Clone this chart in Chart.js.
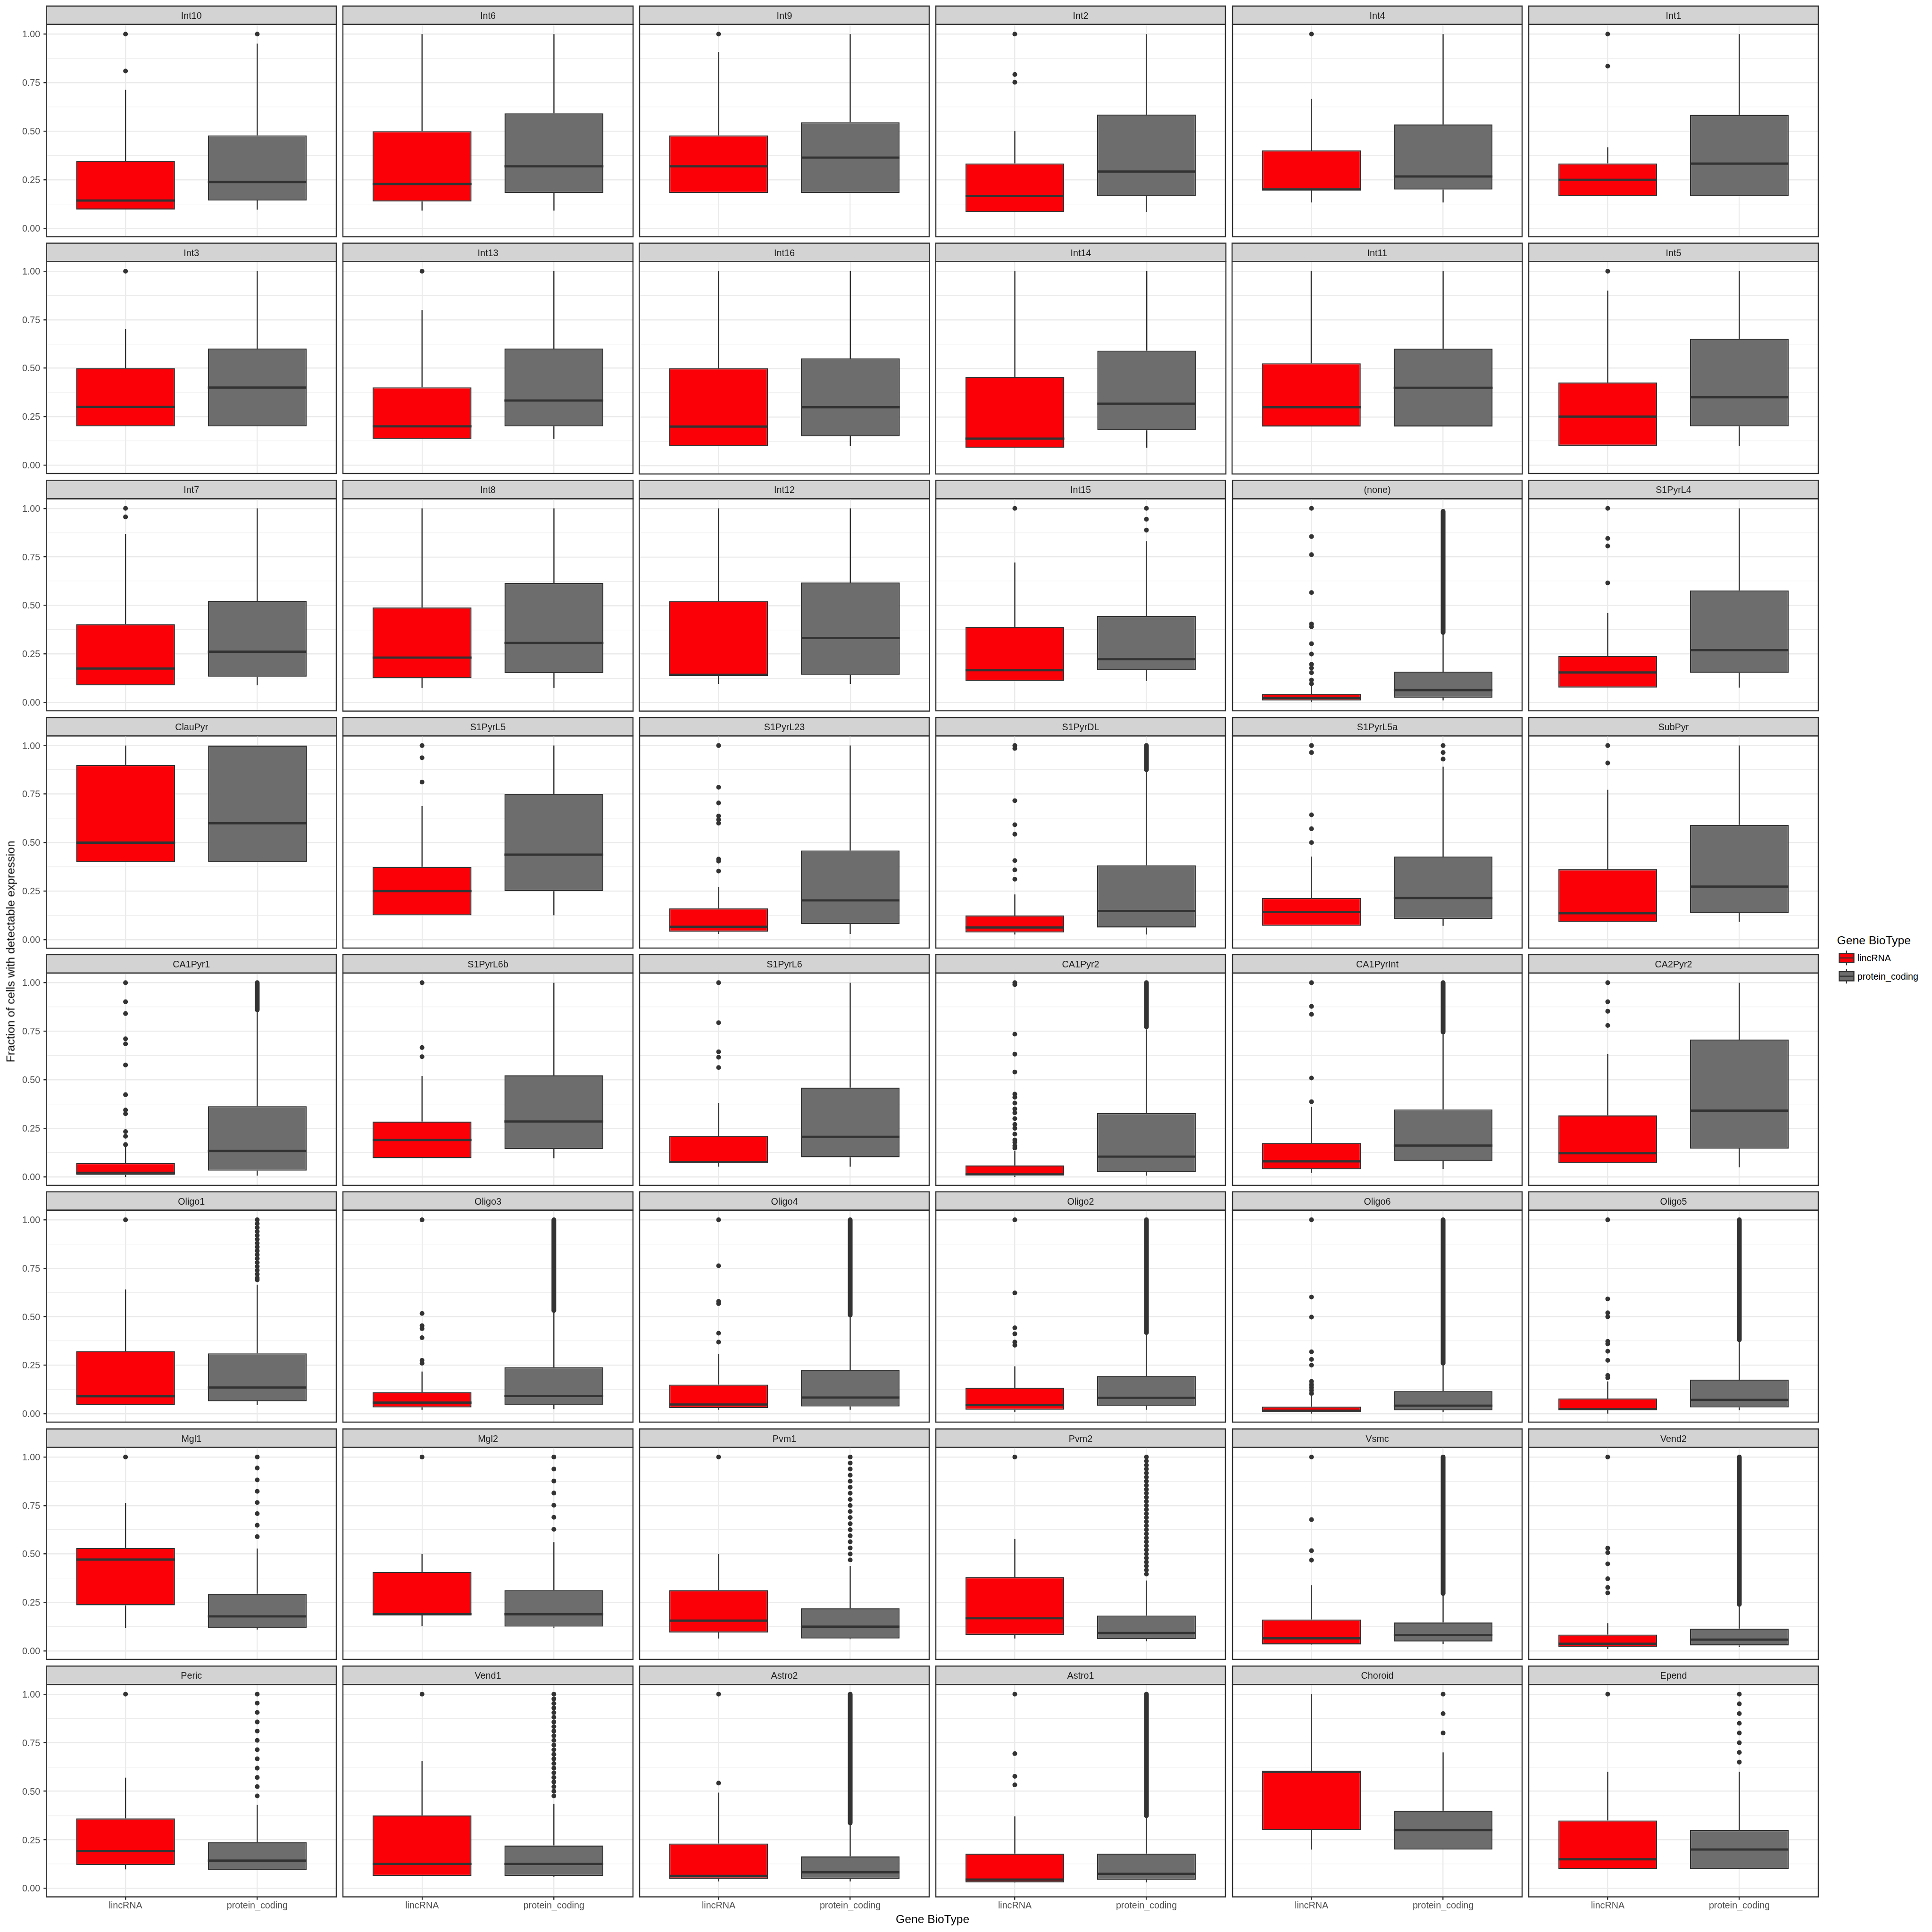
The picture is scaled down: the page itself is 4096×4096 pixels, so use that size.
<!DOCTYPE html>
<html>
<head>
<meta charset="utf-8">
<script src="https://cdn.jsdelivr.net/npm/chart.js@4.4.1/dist/chart.umd.min.js"></script>
<style>
html,body{margin:0;padding:0;background:#ffffff;}
#wrap{position:relative;width:4096px;height:4096px;overflow:hidden;background:#ffffff;font-family:"Liberation Sans",Arial,Helvetica,sans-serif;}
#wrap canvas{position:absolute;}
.txt{position:absolute;white-space:nowrap;}
</style>
</head>
<body>
<div id="wrap"></div>
<script>
// ---------------- DATA ----------------
const panelNames = ['Int10','Int6','Int9','Int2','Int4','Int1',
  'Int3','Int13','Int16','Int14','Int11','Int5',
  'Int7','Int8','Int12','Int15','(none)','S1PyrL4',
  'ClauPyr','S1PyrL5','S1PyrL23','S1PyrDL','S1PyrL5a','SubPyr',
  'CA1Pyr1','S1PyrL6b','S1PyrL6','CA1Pyr2','CA1PyrInt','CA2Pyr2',
  'Oligo1','Oligo3','Oligo4','Oligo2','Oligo6','Oligo5',
  'Mgl1','Mgl2','Pvm1','Pvm2','Vsmc','Vend2',
  'Peric','Vend1','Astro2','Astro1','Choroid','Epend'];
const xCategories = ['lincRNA', 'protein_coding'];
const xPositions = [1, 2];
const yTickValues = [0, 0.25, 0.5, 0.75, 1];
const yTickLabels = ['0.00', '0.25', '0.50', '0.75', '1.00'];
const yMinorValues = [0.125, 0.375, 0.625, 0.875];
const xAxisTitle = 'Gene BioType';
const yAxisTitle = 'Fraction of cells with detectable expression';
const legendTitle = 'Gene BioType';

// lincRNA box statistics (one value per panel)
const lincLower  = [0.096,0.091,0.182,0.084,0.133,0.166, 0.2,0.135,0.1,0.091,0.2,0.1, 0.088,0.077,0.096,0.11,0.0,0.076, 0.4,0.125,0.029,0.026,0.071,0.091, 0.0,0.096,0.052,0.0,0.02,0.071, 0.044,0.02,0.02,0.01,0.0,0.0, 0.118,0.128,0.064,0.064,0.03,0.01, 0.098,0.064,0.036,0.03,0.2,0.1];
const lincQ1     = [0.096,0.138,0.182,0.084,0.2,0.166, 0.2,0.135,0.1,0.091,0.2,0.1, 0.088,0.126,0.14,0.11,0.01,0.076, 0.4,0.125,0.041,0.037,0.071,0.091, 0.01,0.096,0.073,0.006,0.039,0.071, 0.044,0.032,0.029,0.02,0.01,0.017, 0.235,0.185,0.095,0.083,0.033,0.02, 0.12,0.064,0.05,0.031,0.3,0.1];
const lincMedian = [0.143,0.228,0.319,0.166,0.2,0.25, 0.3,0.2,0.2,0.138,0.3,0.25, 0.174,0.232,0.143,0.166,0.023,0.154, 0.5,0.25,0.066,0.062,0.142,0.136, 0.021,0.19,0.077,0.013,0.08,0.122, 0.09,0.057,0.047,0.044,0.015,0.023, 0.471,0.189,0.156,0.168,0.065,0.037, 0.192,0.126,0.064,0.045,0.6,0.15];
const lincQ3     = [0.347,0.5,0.478,0.334,0.401,0.334, 0.5,0.401,0.5,0.456,0.526,0.426, 0.403,0.49,0.523,0.389,0.043,0.239, 0.9,0.375,0.161,0.124,0.214,0.362, 0.071,0.285,0.21,0.059,0.174,0.317, 0.322,0.111,0.15,0.133,0.036,0.078, 0.531,0.407,0.313,0.38,0.162,0.084, 0.36,0.376,0.231,0.179,0.6,0.35];
const lincUpper  = [0.713,1.0,0.908,0.5,0.666,0.417, 0.701,0.8,1.0,1.0,1.0,0.9, 0.868,1.0,1.0,0.721,0.083,0.46, 1.0,0.688,0.27,0.233,0.428,0.772, 0.154,0.52,0.38,0.133,0.36,0.632, 0.641,0.217,0.309,0.244,0.09,0.166, 0.764,0.5,0.5,0.577,0.338,0.143, 0.57,0.656,0.493,0.371,1.0,0.6];

// protein_coding box statistics
const protLower  = [0.096,0.091,0.182,0.084,0.133,0.166, 0.2,0.135,0.1,0.091,0.2,0.1, 0.088,0.077,0.096,0.11,0.01,0.076, 0.4,0.125,0.029,0.026,0.071,0.091, 0.006,0.096,0.052,0.006,0.041,0.049, 0.044,0.023,0.02,0.02,0.01,0.017, 0.11,0.12,0.06,0.05,0.034,0.02, 0.095,0.06,0.036,0.031,0.2,0.1];
const protQ1     = [0.143,0.182,0.182,0.166,0.2,0.166, 0.2,0.2,0.15,0.181,0.2,0.2, 0.132,0.152,0.143,0.166,0.024,0.152, 0.4,0.25,0.08,0.062,0.107,0.136, 0.032,0.143,0.101,0.024,0.08,0.146, 0.064,0.045,0.037,0.04,0.017,0.032, 0.117,0.125,0.064,0.061,0.048,0.028, 0.095,0.064,0.05,0.045,0.2,0.1];
const protMedian = [0.238,0.319,0.364,0.292,0.267,0.333, 0.4,0.333,0.3,0.318,0.4,0.35, 0.261,0.307,0.333,0.222,0.063,0.269, 0.6,0.438,0.202,0.147,0.214,0.273, 0.133,0.285,0.206,0.104,0.161,0.341, 0.135,0.091,0.083,0.082,0.041,0.071, 0.178,0.189,0.125,0.092,0.081,0.058, 0.143,0.126,0.083,0.075,0.3,0.2];
const protQ3     = [0.478,0.592,0.546,0.585,0.535,0.584, 0.601,0.601,0.551,0.591,0.601,0.651, 0.523,0.616,0.618,0.445,0.158,0.577, 1.0,0.751,0.459,0.383,0.428,0.591, 0.364,0.523,0.46,0.328,0.347,0.707, 0.311,0.239,0.226,0.194,0.116,0.175, 0.295,0.313,0.22,0.182,0.147,0.115, 0.238,0.221,0.165,0.179,0.4,0.3];
const protUpper  = [0.951,1.0,1.0,1.0,1.0,1.0, 1.0,1.0,1.0,1.0,1.0,1.0, 1.0,1.0,1.0,0.831,0.35,1.0, 1.0,1.0,1.0,0.865,0.891,1.0, 0.85,1.0,1.0,0.76,0.735,1.0, 0.665,0.52,0.5,0.41,0.25,0.37, 0.528,0.561,0.438,0.363,0.29,0.23, 0.43,0.436,0.33,0.37,0.7,0.6];

// outliers (individual points)
const lincOutliers = [
  [1,0.81],[],[1],[1,0.792,0.752],[1],[1,0.835],
  [1],[1],[],[],[],[1],
  [1,0.956],[],[],[1],[1,0.855,0.761,0.566,0.404,0.39,0.302,0.249,0.196,0.177,0.153,0.115,0.096],[1,0.845,0.806,0.616],
  [],[1,0.937,0.812],[1,0.785,0.704,0.637,0.618,0.6,0.415,0.404,0.353],[1,0.985,0.716,0.592,0.543,0.407,0.359,0.311],[1,0.964,0.643,0.571,0.5],[1,0.91],
  [1,0.902,0.841,0.711,0.685,0.576,0.423,0.344,0.325,0.233,0.209,0.166],[1,0.666,0.619],[1,0.794,0.644,0.616,0.563],
  [1,0.99,0.735,0.632,0.54,0.426,0.41,0.38,0.35,0.33,0.3,0.27,0.25,0.22,0.19,0.178,0.16,0.148],[1,0.878,0.837,0.509,0.387],[1,0.902,0.853,0.78],
  [1],[1,0.517,0.454,0.439,0.392,0.275,0.26],[1,0.763,0.579,0.568,0.415,0.369],[1,0.623,0.443,0.412,0.369,0.353],
  [1,0.602,0.498,0.319,0.28,0.25,0.166,0.15,0.135,0.12,0.104],[1,0.592,0.52,0.5,0.373,0.36,0.322,0.275,0.197,0.185],
  [1],[1],[1],[1],[1,0.677,0.517,0.468],[1,0.53,0.507,0.449,0.372,0.327,0.299],
  [1],[1],[1,0.542],[1,0.694,0.577,0.533],[],[1]
];
const protOutliers = [
  [1],[],[],[],[],[],
  [],[],[],[],[],[],
  [],[],[],[1,0.944,0.888],[],[],
  [],[],[],[],[1,0.964,0.93],[],
  [],[],[],[],[],[],
  [1,0.98,0.96,0.94,0.92,0.9,0.88,0.86,0.84,0.82,0.8,0.78,0.76,0.74,0.72,0.7,0.69],[],[],[],[],[],
  [1,0.943,0.882,0.823,0.765,0.708,0.648,0.589],
  [1,0.938,0.876,0.814,0.751,0.689,0.627],
  [1,0.969,0.938,0.906,0.875,0.844,0.813,0.781,0.75,0.719,0.688,0.656,0.625,0.594,0.563,0.531,0.5,0.469],
  [1,0.979,0.958,0.938,0.917,0.896,0.875,0.854,0.833,0.813,0.792,0.771,0.75,0.729,0.708,0.688,0.667,0.646,0.625,0.604,0.583,0.563,0.542,0.521,0.5,0.479,0.458,0.438,0.417,0.396],
  [],[],
  [1,0.954,0.906,0.857,0.81,0.762,0.714,0.667,0.619,0.571,0.524,0.476],
  [1,0.976,0.952,0.929,0.905,0.881,0.857,0.833,0.81,0.786,0.762,0.738,0.714,0.69,0.667,0.643,0.619,0.595,0.571,0.548,0.524,0.5,0.476],
  [],[],[1,0.9,0.8],[1,0.95,0.9,0.85,0.8,0.75,0.7,0.65]
];
// dense runs of overlapping outliers [low, high] for protein_coding (null = none)
const protDenseOutliers = [
  null,null,null,null,null,null,
  null,null,null,null,null,null,
  null,null,null,null,[0.36,0.985],null,
  null,null,null,[0.875,1],null,null,
  [0.86,1],null,null,[0.772,1],[0.746,1],null,
  null,[0.532,1],[0.509,1],[0.418,1],[0.26,1],[0.381,1],
  null,null,null,null,[0.296,1],[0.24,1],
  null,null,[0.337,1],[0.374,1],null,null
];

// ---------------- STYLE / LAYOUT ----------------
const S = 4096 / 4800;
const FONT = '"Liberation Sans", Arial, Helvetica, sans-serif';
const INK = '#333333', GRID = '#EBEBEB', STRIP_FILL = '#D3D3D3';
const FILLS = ['#FB0007', '#6D6D6D'];
const AXIS_TXT = '#4D4D4D', STRIP_TXT = '#1A1A1A';
const LW = 2.8 * S, MED_LW = 5.6 * S, MINOR_LW = 1.4 * S, PT_R = 5.9 * S;
const FS_SMALL = 23.1 * S, FS_TITLE = 28.9 * S;
const COL0 = 115.5 * S, COLSTEP = 736.4 * S, PW = 721 * S;
const ROW0 = 15 * S, ROWSTEP = 589.2 * S, STRIPH = 45.7 * S, PH = 527.6 * S;
const TICK_LEN = 7.3 * S, XAXIS_H = 45, M = 4;
const Y_MIN = -0.0437, Y_MAX = 1.0497;
const NCOL = 6, NROW = 8;

Chart.defaults.font.family = FONT;

const yGridValues = yTickValues.concat(yMinorValues).sort((a, b) => a - b);
const near = (a, b) => Math.abs(a - b) < 1e-9;
const isMajorY = v => yTickValues.some(t => near(t, v));

const boxParts = {
  id: 'boxParts',
  beforeDraw(chart, args, o) {
    const ctx = chart.ctx, a = chart.chartArea;
    ctx.save();
    ctx.fillStyle = STRIP_FILL;
    ctx.fillRect(a.left, a.top - STRIPH, a.right - a.left, STRIPH);
    ctx.strokeStyle = INK; ctx.lineWidth = LW;
    ctx.strokeRect(a.left, a.top - STRIPH, a.right - a.left, STRIPH);
    ctx.fillStyle = STRIP_TXT;
    ctx.font = FS_SMALL + 'px ' + FONT;
    ctx.textAlign = 'center'; ctx.textBaseline = 'alphabetic';
    ctx.fillText(panelNames[o.index], (a.left + a.right) / 2, a.top - STRIPH / 2 + 0.358 * FS_SMALL + 0.5);
    ctx.restore();
  },
  beforeDatasetsDraw(chart, args, o) {
    const i = o.index, ctx = chart.ctx, xs = chart.scales.x, ys = chart.scales.y;
    const stats = [[lincLower[i], lincQ1[i], lincQ3[i], lincUpper[i]],
                   [protLower[i], protQ1[i], protQ3[i], protUpper[i]]];
    ctx.save();
    ctx.strokeStyle = INK; ctx.lineWidth = LW; ctx.lineCap = 'butt';
    stats.forEach((s, k) => {
      const x = xs.getPixelForValue(xPositions[k]);
      ctx.beginPath();
      ctx.moveTo(x, ys.getPixelForValue(s[3])); ctx.lineTo(x, ys.getPixelForValue(s[2]));
      ctx.moveTo(x, ys.getPixelForValue(s[1])); ctx.lineTo(x, ys.getPixelForValue(s[0]));
      ctx.stroke();
    });
    ctx.restore();
  },
  afterDatasetsDraw(chart, args, o) {
    const i = o.index, ctx = chart.ctx, xs = chart.scales.x, ys = chart.scales.y, a = chart.chartArea;
    ctx.save();
    // dense outlier runs
    const d = protDenseOutliers[i];
    if (d) {
      const x = xs.getPixelForValue(xPositions[1]);
      ctx.strokeStyle = INK; ctx.lineWidth = 2 * PT_R; ctx.lineCap = 'round';
      ctx.beginPath();
      ctx.moveTo(x, ys.getPixelForValue(d[0])); ctx.lineTo(x, ys.getPixelForValue(d[1]));
      ctx.stroke();
    }
    // medians
    const meds = [lincMedian[i], protMedian[i]];
    const meta = chart.getDatasetMeta(1);
    ctx.strokeStyle = INK; ctx.lineWidth = MED_LW; ctx.lineCap = 'butt';
    meta.data.forEach((el, k) => {
      const p = el.getProps(['x', 'width'], true);
      const y = ys.getPixelForValue(meds[k]);
      ctx.beginPath();
      ctx.moveTo(p.x - p.width / 2, y); ctx.lineTo(p.x + p.width / 2, y);
      ctx.stroke();
    });
    // panel border
    ctx.lineWidth = LW; ctx.strokeStyle = INK;
    ctx.strokeRect(a.left, a.top, a.right - a.left, a.bottom - a.top);
    ctx.restore();
  }
};

const wrap = document.getElementById('wrap');

panelNames.forEach((name, i) => {
  const r = Math.floor(i / NCOL), c = i % NCOL;
  const isLeft = c === 0, isBottom = r === NROW - 1;
  const plotL = COL0 + c * COLSTEP, plotR = plotL + PW;
  const stripT = ROW0 + r * ROWSTEP, plotT = stripT + STRIPH, plotB = plotT + PH;
  const padL = isLeft ? plotL : 0;
  const padB = isBottom ? XAXIS_H : 0;
  const cx = Math.max(0, Math.floor(plotL - padL - M));
  const cy = Math.max(0, Math.floor(stripT - M));
  const cw = Math.ceil(plotR + M) - cx;
  const ch = Math.ceil(plotB + padB + M) - cy;

  const cv = document.createElement('canvas');
  cv.width = cw; cv.height = ch;
  cv.style.left = cx + 'px'; cv.style.top = cy + 'px';
  cv.style.width = cw + 'px'; cv.style.height = ch + 'px';
  wrap.appendChild(cv);

  const outPts = lincOutliers[i].map(v => ({x: xPositions[0], y: v}))
    .concat(protOutliers[i].map(v => ({x: xPositions[1], y: v})));

  new Chart(cv, {
    type: 'bar',
    data: {
      datasets: [
        {
          type: 'scatter', label: 'outliers', data: outPts, order: 0,
          pointRadius: PT_R, pointHoverRadius: PT_R, pointBackgroundColor: INK,
          pointBorderWidth: 0, pointBorderColor: INK
        },
        {
          type: 'bar', label: 'box', order: 1,
          data: [{x: xPositions[0], y: [lincQ1[i], lincQ3[i]]}, {x: xPositions[1], y: [protQ1[i], protQ3[i]]}],
          backgroundColor: FILLS, borderColor: INK, borderWidth: LW, borderSkipped: false,
          categoryPercentage: 0.75, barPercentage: 1
        }
      ]
    },
    options: {
      responsive: false, animation: false, events: [], devicePixelRatio: 1,
      layout: {padding: {
        left: plotL - padL - cx, top: plotT - cy,
        right: cx + cw - plotR, bottom: cy + ch - plotB - padB
      }},
      plugins: {legend: {display: false}, tooltip: {enabled: false}, title: {display: false}, boxParts: {index: i}},
      scales: {
        x: {
          type: 'linear', position: 'bottom', min: 0.4, max: 2.6, offset: false,
          afterBuildTicks: ax => { ax.ticks = xPositions.map(v => ({value: v})); },
          afterFit: ax => { ax.height = padB; ax.paddingLeft = 0; ax.paddingRight = 0; },
          border: {display: false},
          grid: {color: GRID, lineWidth: LW, offset: false, drawTicks: isBottom, tickLength: TICK_LEN, tickColor: INK, tickWidth: LW},
          ticks: {
            display: isBottom, autoSkip: false, maxRotation: 0, minRotation: 0, padding: 1.1,
            color: AXIS_TXT, font: {family: FONT, size: FS_SMALL},
            callback: v => { const k = xPositions.findIndex(p => near(p, v)); return k >= 0 ? xCategories[k] : ''; }
          }
        },
        y: {
          type: 'linear', position: 'left', min: Y_MIN, max: Y_MAX,
          afterBuildTicks: ax => { ax.ticks = yGridValues.map(v => ({value: v})); },
          afterFit: ax => { ax.width = padL; ax.paddingTop = 0; ax.paddingBottom = 0; },
          border: {display: false},
          grid: {
            color: GRID,
            lineWidth: ctx => (ctx.tick && isMajorY(ctx.tick.value)) ? LW : MINOR_LW,
            drawTicks: isLeft, tickLength: TICK_LEN, tickWidth: LW,
            tickColor: ctx => (ctx.tick && isMajorY(ctx.tick.value)) ? INK : 'rgba(0,0,0,0)'
          },
          ticks: {
            display: isLeft, autoSkip: false, padding: 7.1, labelOffset: 1.5,
            color: AXIS_TXT, font: {family: FONT, size: FS_SMALL},
            callback: v => { const k = yTickValues.findIndex(t => near(t, v)); return k >= 0 ? yTickLabels[k] : ''; }
          }
        }
      }
    },
    plugins: [boxParts]
  });
});

// ---------------- TITLES & LEGEND (text) ----------------
function addText(str, left, baseline, fs, color, extraStyle) {
  const d = document.createElement('div');
  d.className = 'txt';
  d.textContent = str;
  d.style.fontSize = fs + 'px';
  d.style.lineHeight = fs + 'px';
  d.style.height = fs + 'px';
  d.style.color = color;
  d.style.top = (baseline - fs / 2 - 0.3465 * fs) + 'px';
  d.style.left = left + 'px';
  if (extraStyle) Object.assign(d.style, extraStyle);
  wrap.appendChild(d);
  return d;
}
// x axis title, centred over the panel block
const panelsCx = (COL0 + (COL0 + (NCOL - 1) * COLSTEP + PW)) / 2;
addText(xAxisTitle, panelsCx - 600, 4779 * S, FS_TITLE, '#000000', {width: '1200px', textAlign: 'center'});
// y axis title (rotated)
const panelsCy = (ROW0 + (ROW0 + (NROW - 1) * ROWSTEP + STRIPH + PH)) / 2;
{
  const d = document.createElement('div');
  d.className = 'txt';
  d.textContent = yAxisTitle;
  d.style.fontSize = FS_TITLE + 'px';
  d.style.lineHeight = FS_TITLE + 'px';
  d.style.height = FS_TITLE + 'px';
  d.style.width = '1600px';
  d.style.textAlign = 'center';
  d.style.color = '#000000';
  const cxT = 36.7 * S - 0.3465 * FS_TITLE;
  d.style.left = (cxT - 800) + 'px';
  d.style.top = (panelsCy - FS_TITLE / 2) + 'px';
  d.style.transform = 'rotate(-90deg)';
  d.style.transformOrigin = '50% 50%';
  wrap.appendChild(d);
}
// legend
addText(legendTitle, 4564 * S, 2346.7 * S, FS_TITLE, '#000000');
const legendBaselines = [2389.3 * S, 2434.7 * S];
const legendCenters = [2380.0 * S, 2425.4 * S];
xCategories.forEach((lab, k) => {
  addText(lab, 4614.5 * S, legendBaselines[k], FS_SMALL, '#000000');
});
{
  const NS = 'http://www.w3.org/2000/svg';
  const svg = document.createElementNS(NS, 'svg');
  const ox = 3880, oy = 1990, sw = 70, sh = 110;
  svg.setAttribute('width', sw); svg.setAttribute('height', sh);
  svg.style.position = 'absolute'; svg.style.left = ox + 'px'; svg.style.top = oy + 'px';
  const kcx = 4587.7 * S - ox, hw = 18.2 * S, hb = 11.4 * S, hwk = 18.2 * S;
  legendCenters.forEach((cyAbs, k) => {
    const cyk = cyAbs - oy;
    const wl = document.createElementNS(NS, 'line');
    wl.setAttribute('x1', kcx); wl.setAttribute('x2', kcx);
    wl.setAttribute('y1', cyk - hwk); wl.setAttribute('y2', cyk + hwk);
    wl.setAttribute('stroke', INK); wl.setAttribute('stroke-width', LW);
    svg.appendChild(wl);
    const rc = document.createElementNS(NS, 'rect');
    rc.setAttribute('x', kcx - hw); rc.setAttribute('y', cyk - hb);
    rc.setAttribute('width', 2 * hw); rc.setAttribute('height', 2 * hb);
    rc.setAttribute('fill', FILLS[k]); rc.setAttribute('stroke', INK); rc.setAttribute('stroke-width', LW);
    svg.appendChild(rc);
    const ml = document.createElementNS(NS, 'line');
    ml.setAttribute('x1', kcx - hw); ml.setAttribute('x2', kcx + hw);
    ml.setAttribute('y1', cyk); ml.setAttribute('y2', cyk);
    ml.setAttribute('stroke', INK); ml.setAttribute('stroke-width', LW);
    svg.appendChild(ml);
  });
  wrap.appendChild(svg);
}
</script>
</body>
</html>
